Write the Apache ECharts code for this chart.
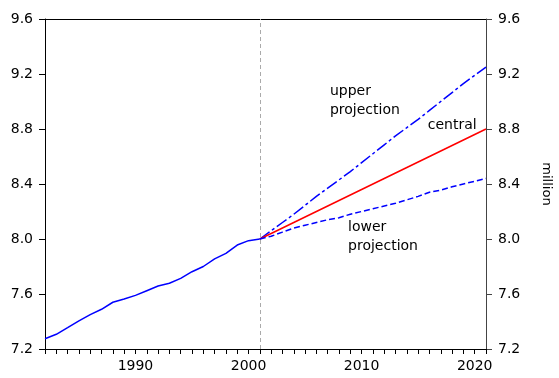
<!DOCTYPE html>
<html>
<head>
<meta charset="utf-8" />
<script src="https://cdn.jsdelivr.net/npm/echarts@6/dist/echarts.min.js"></script>
<style>
  html, body { margin: 0; padding: 0; background: #fff; }
  #chart { width: 559px; height: 378px; }
</style>
</head>
<body>
<div id="chart"></div>
<script>
// historical population, million
const histYears = [1982, 1983, 1984, 1985, 1986, 1987, 1988, 1989, 1990, 1991,
  1992, 1993, 1994, 1995, 1996, 1997, 1998, 1999, 2000, 2001];
const histValues = [7.275, 7.307, 7.355, 7.404, 7.45, 7.489, 7.54, 7.564, 7.59, 7.624,
  7.658, 7.678, 7.714, 7.762, 7.80, 7.855, 7.896, 7.956, 7.988, 8.0];

// projections 2001-2021
const projYears = [2001, 2002, 2003, 2004, 2005, 2006, 2007, 2008, 2009, 2010, 2011,
  2012, 2013, 2014, 2015, 2016, 2017, 2018, 2019, 2020, 2021];
const centralValues = [8.0, 8.04, 8.08, 8.12, 8.16, 8.2, 8.24, 8.28, 8.32, 8.36, 8.4,
  8.44, 8.48, 8.52, 8.56, 8.6, 8.64, 8.68, 8.72, 8.76, 8.8];
const upperValues = [8.0, 8.06, 8.12, 8.18, 8.245, 8.31, 8.37, 8.43, 8.49, 8.555, 8.62,
  8.685, 8.75, 8.81, 8.87, 8.935, 9.0, 9.065, 9.13, 9.19, 9.25];
const lowerValues = [8.0, 8.02, 8.05, 8.08, 8.1, 8.12, 8.14, 8.155, 8.18, 8.2, 8.22,
  8.24, 8.26, 8.285, 8.31, 8.34, 8.355, 8.38, 8.4, 8.42, 8.44];

const yTicks = [7.2, 7.6, 8.0, 8.4, 8.8, 9.2, 9.6];
const splitYear = 2001;

// text notes, placed in data coordinates
const notes = [
  { text: "upper\nprojection", year: 2007.2, value: 9.14 },
  { text: "central", year: 2015.85, value: 8.895 },
  { text: "lower\nprojection", year: 2008.8, value: 8.157 },
];

const font = "DejaVu Sans";

function pairs(xs, ys) {
  return xs.map((x, i) => [x, ys[i]]);
}

function yAxis(pos) {
  const c = pos === "left" ? "#000" : "#444";
  return {
    type: "value",
    position: pos,
    min: yTicks[0],
    max: yTicks[yTicks.length - 1],
    interval: 0.4,
    splitLine: { show: false },
    axisLine: { show: true, lineStyle: { color: c } },
    axisTick: { show: true, length: 6, lineStyle: { color: c } },
    axisLabel: {
      margin: 12,
      color: "#000",
      fontFamily: font,
      fontSize: 14,
      formatter: (v) => v.toFixed(1),
    },
  };
}

const chart = echarts.init(document.getElementById("chart"));

const right = yAxis("right");
right.name = "million";
right.nameLocation = "middle";
right.nameRotate = -90;
right.nameGap = 54;
right.nameTextStyle = { color: "#000", fontFamily: font, fontSize: 13 };

const option = {
  animation: false,
  grid: { left: 45, right: 73, top: 19, bottom: 29, outerBoundsMode: "none" },
  xAxis: [
    {
      type: "value",
      min: 1982,
      max: 2021,
      interval: 1,
      splitLine: { show: false },
      axisLine: { lineStyle: { color: "#000" } },
      axisTick: { length: 5, lineStyle: { color: "#000" } },
      axisLabel: {
        margin: 10,
        color: "#000",
        fontFamily: font,
        fontSize: 14,
        formatter: (v) => (v % 10 === 0 ? String(v) : ""),
      },
    },
    {
      type: "value",
      position: "top",
      min: 1982,
      max: 2021,
      splitLine: { show: false },
      axisLine: { show: true, lineStyle: { color: "#000" } },
      axisTick: { show: false },
      axisLabel: { show: false },
    },
  ],
  yAxis: [yAxis("left"), right],
  series: [
    {
      name: "history",
      type: "line",
      data: pairs(histYears, histValues),
      showSymbol: false,
      lineStyle: { color: "#0000ff", width: 1.5 },
      markLine: {
        silent: true,
        symbol: "none",
        label: { show: false },
        lineStyle: { color: "#aaa", type: [4, 3], width: 1 },
        data: [{ xAxis: splitYear }],
      },
    },
    {
      name: "upper",
      type: "line",
      data: pairs(projYears, upperValues),
      showSymbol: false,
      lineStyle: { color: "#0000ff", width: 1.5, type: [12, 3, 3, 3] },
    },
    {
      name: "central",
      type: "line",
      data: pairs(projYears, centralValues),
      showSymbol: false,
      lineStyle: { color: "#ff0000", width: 1.5 },
    },
    {
      name: "lower",
      type: "line",
      data: pairs(projYears, lowerValues),
      showSymbol: false,
      lineStyle: { color: "#0000ff", width: 1.5, type: [6, 3] },
    },
  ],
};

chart.setOption(option);

// note labels
chart.setOption({
  graphic: notes.map((n) => {
    const p = chart.convertToPixel({ gridIndex: 0 }, [n.year, n.value]);
    return {
      type: "text",
      x: p[0],
      y: p[1],
      style: {
        text: n.text,
        fill: "#000",
        font: "14px " + font,
        lineHeight: 19,
      },
    };
  }),
});
</script>
</body>
</html>
